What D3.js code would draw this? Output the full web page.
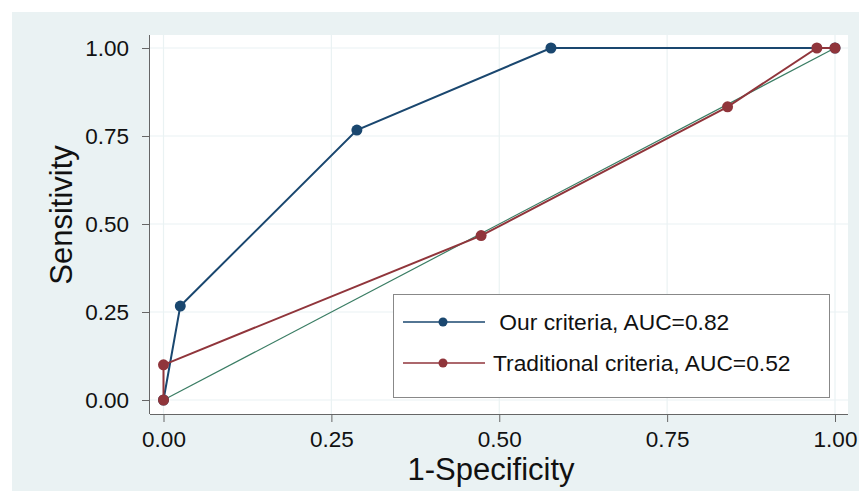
<!DOCTYPE html>
<html>
<head>
<meta charset="utf-8">
<script src="https://cdn.jsdelivr.net/npm/d3@7"></script>
<style>
  body { margin: 0; background: #fff; }
  svg { display: block; font-family: "Liberation Sans", Arial, sans-serif; }
</style>
</head>
<body>
<div id="chart"></div>
<script>
// ROC curves (1-specificity, sensitivity)
const ourX = [0, 0.025, 0.288, 0.577, 1];
const ourY = [0, 0.267, 0.767, 1, 1];
const tradX = [0, 0, 0.473, 0.84, 0.973, 1];
const tradY = [0, 0.1, 0.467, 0.833, 1, 1];
const refX = [0, 1];
const refY = [0, 1];
const ticks = [0, 0.25, 0.5, 0.75, 1];
const seriesNames = [" Our criteria, AUC=0.82", "Traditional criteria, AUC=0.52"];

const width = 859, height = 491;
const navy = "#1a476f", maroon = "#90353b", green = "#3a7d64";

const svg = d3.select("#chart").append("svg")
    .attr("width", width)
    .attr("height", height);

// outer graph region
svg.append("rect")
    .attr("x", 12).attr("y", 12)
    .attr("width", width - 12).attr("height", height - 12)
    .attr("fill", "#eaf2f3");

// plot region
const plot = { left: 150, top: 35, right: 848, bottom: 414 };
svg.append("rect")
    .attr("x", plot.left).attr("y", plot.top)
    .attr("width", plot.right - plot.left).attr("height", plot.bottom - plot.top)
    .attr("fill", "#fff");

const x = d3.scaleLinear().domain([0, 1]).range([163.5, 835]);
const y = d3.scaleLinear().domain([0, 1]).range([400, 48]);

// grid
const grid = svg.append("g").attr("stroke", "#eaf2f3").attr("stroke-width", 1.2);
grid.selectAll("line.gx").data(ticks).join("line")
    .attr("x1", d => x(d)).attr("x2", d => x(d))
    .attr("y1", plot.top).attr("y2", plot.bottom);
grid.selectAll("line.gy").data(ticks).join("line")
    .attr("x1", plot.left).attr("x2", plot.right)
    .attr("y1", d => y(d)).attr("y2", d => y(d));

const fmt = d3.format(".2f");

// axes
const xAxis = svg.append("g")
    .attr("transform", `translate(0,${plot.bottom})`)
    .call(d3.axisBottom(x).tickValues(ticks).tickFormat(fmt).tickSize(8).tickPadding(9).tickSizeOuter(0));
xAxis.select(".domain").attr("d", `M${plot.left},0.5H${plot.right}`);

const yAxis = svg.append("g")
    .attr("transform", `translate(${plot.left},0)`)
    .call(d3.axisLeft(y).tickValues(ticks).tickFormat(fmt).tickSize(8).tickPadding(13).tickSizeOuter(0));
yAxis.select(".domain").attr("d", `M-0.5,${plot.top}V${plot.bottom}`);

svg.selectAll(".tick line").attr("stroke", "#666");
svg.selectAll(".domain").attr("stroke", "#666");
svg.selectAll(".tick text")
    .attr("fill", "#111")
    .style("font-size", "22.5px")
    .style("font-family", "'Liberation Sans', Arial, sans-serif");

// axis titles
svg.append("text")
    .attr("x", 491).attr("y", 480)
    .attr("text-anchor", "middle")
    .attr("fill", "#111")
    .style("font-size", "31px")
    .text("1-Specificity");
svg.append("text")
    .attr("transform", `translate(72,${y(0.5) - 9}) rotate(-90)`)
    .attr("text-anchor", "middle")
    .attr("fill", "#111")
    .style("font-size", "31px")
    .text("Sensitivity");

// reference line
const line = d3.line().x(d => x(d[0])).y(d => y(d[1]));
svg.append("path")
    .datum(d3.zip(refX, refY))
    .attr("d", line)
    .attr("fill", "none")
    .attr("stroke", green)
    .attr("stroke-width", 1.2);

function drawSeries(xs, ys, color) {
    const pts = d3.zip(xs, ys);
    svg.append("path")
        .datum(pts)
        .attr("d", line)
        .attr("fill", "none")
        .attr("stroke", color)
        .attr("stroke-width", 2);
    svg.append("g")
        .selectAll("circle")
        .data(pts)
        .join("circle")
        .attr("cx", d => x(d[0]))
        .attr("cy", d => y(d[1]))
        .attr("r", 5.5)
        .attr("fill", color);
}
drawSeries(ourX, ourY, navy);
drawSeries(tradX, tradY, maroon);

// legend
const legend = svg.append("g");
legend.append("rect")
    .attr("x", 393.5).attr("y", 294.5)
    .attr("width", 436).attr("height", 103)
    .attr("fill", "#fff")
    .attr("stroke", "#888")
    .attr("stroke-width", 1);

const legendColors = [navy, maroon];
const rows = legend.selectAll("g.row")
    .data(seriesNames)
    .join("g")
    .attr("transform", (d, i) => `translate(0,${322 + i * 41})`);
rows.append("line")
    .attr("x1", 403).attr("x2", 485)
    .attr("stroke", (d, i) => legendColors[i])
    .attr("stroke-width", 1.5);
rows.append("circle")
    .attr("cx", 443).attr("r", 4.5)
    .attr("fill", (d, i) => legendColors[i]);
rows.append("text")
    .attr("x", 493).attr("y", 8)
    .attr("fill", "#111")
    .style("font-size", "22.8px")
    .style("white-space", "pre")
    .text(d => d);
</script>
</body>
</html>
